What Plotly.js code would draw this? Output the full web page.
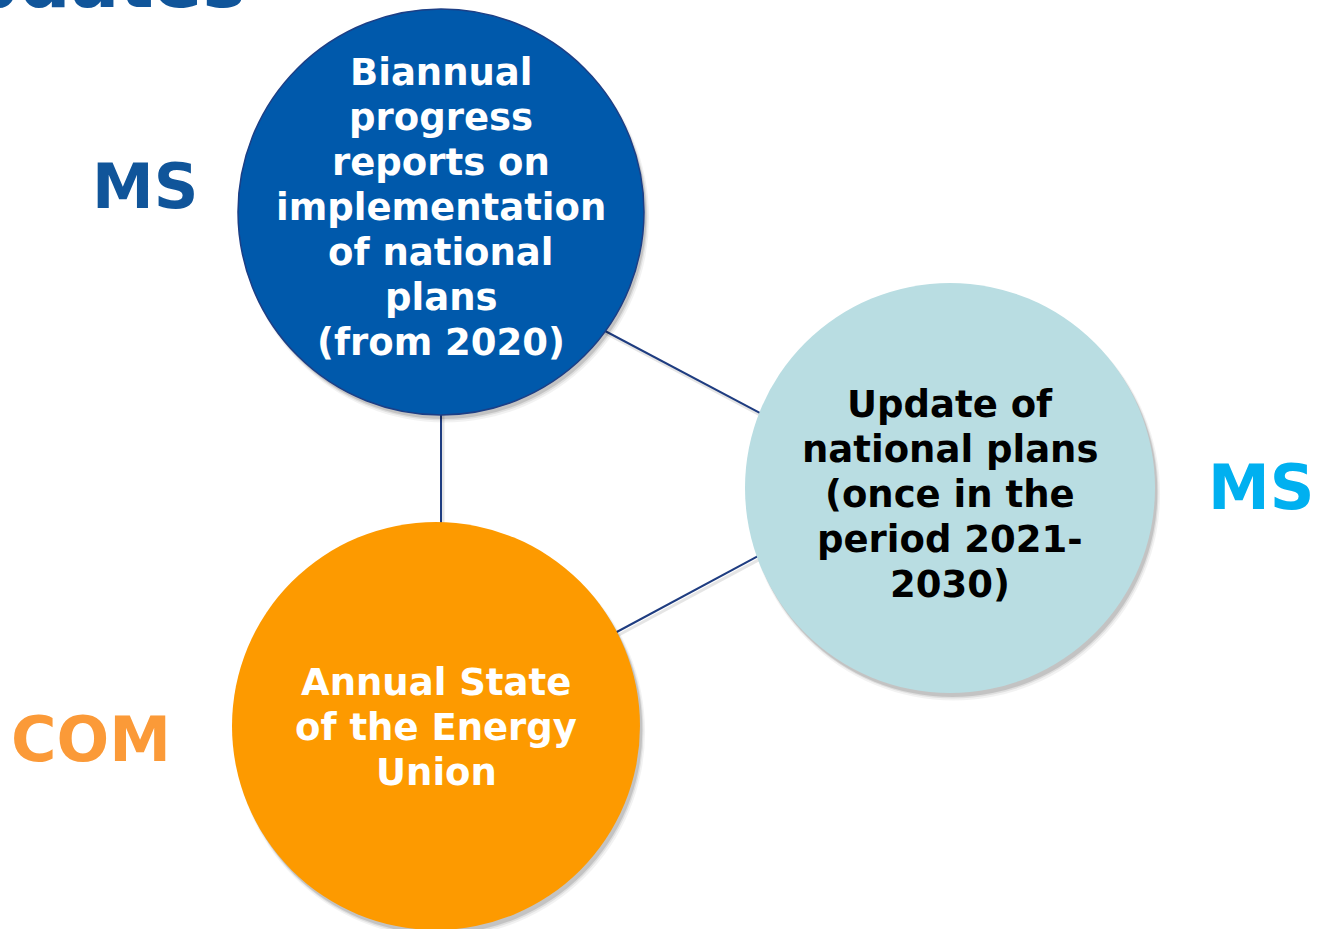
<!DOCTYPE html>
<html>
<head>
<meta charset="utf-8">
<script src="https://cdn.plot.ly/plotly-3.0.1.min.js"></script>
<style>
  html, body { margin: 0; padding: 0; background: #ffffff; }
  #chart { width: 1317px; height: 929px; }
</style>
</head>
<body>
<div id="chart"></div>
<script>
// ---- data ----
const titleText = "Updates";
const nodeLabels = [
  ["Biannual", "progress", "reports on", "implementation", "of national", "plans", "(from 2020)"],
  ["Update of", "national plans", "(once in the", "period 2021-", "2030)"],
  ["Annual State", "of the Energy", "Union"]
];
const nodeX = [441, 950, 436];
const nodeY = [212, 488, 726];
const nodeR = [203, 205, 204];
const actorLabels = ["MS", "MS", "COM"];
const actorX = [145, 1261, 91];
const actorY = [185, 486, 738];
const linkX = [[590, 775], [441, 441], [600, 775]];
const linkY = [[323, 421], [400, 535], [641, 547]];

// ---- styles ----
const nodeFill = ["#0059ab", "#b9dde2", "#fd9a00"];
const nodeLine = ["#1c3f86", "rgba(0,0,0,0)", "rgba(0,0,0,0)"];
const nodeText = ["#ffffff", "#000000", "#ffffff"];
const nodeTextShift = [-5, 6, 1.5];
const actorColor = ["#10559a", "#00b0f0", "#fb9a38"];
const lineColor = "#1e3c80";
const FONT = "DejaVu Sans, Verdana, sans-serif";
const LINE_GAP = 45;

const shapes = [];
// connector shadows + lines
linkX.forEach((xs, i) => {
  shapes.push({type: "line", xref: "x", yref: "y", x0: xs[0] + 2, x1: xs[1] + 2,
    y0: linkY[i][0] + 3, y1: linkY[i][1] + 3, layer: "below",
    line: {color: "rgba(0,0,0,0.10)", width: 3}});
  shapes.push({type: "line", xref: "x", yref: "y", x0: xs[0], x1: xs[1],
    y0: linkY[i][0], y1: linkY[i][1], layer: "below",
    line: {color: lineColor, width: 2}});
});
// circle shadows + circles
nodeX.forEach((cx, i) => {
  const cy = nodeY[i], r = nodeR[i];
  [[6, 1.5, 0.05], [5, 0.5, 0.08], [4, 0, 0.12]].forEach(s => {
    shapes.push({type: "circle", xref: "x", yref: "y", layer: "below",
      x0: cx - r - s[1] + s[0] * 0.6, x1: cx + r + s[1] + s[0] * 0.6,
      y0: cy - r - s[1] + s[0], y1: cy + r + s[1] + s[0],
      fillcolor: "rgba(0,0,0," + s[2] + ")", line: {width: 0}});
  });
  shapes.push({type: "circle", xref: "x", yref: "y", layer: "below",
    x0: cx - r, x1: cx + r, y0: cy - r, y1: cy + r,
    fillcolor: nodeFill[i], line: {color: nodeLine[i], width: 1.5}});
});

const annotations = [];
nodeLabels.forEach((lines, i) => {
  const n = lines.length;
  lines.forEach((t, k) => {
    annotations.push({
      x: nodeX[i], y: nodeY[i] + (k - (n - 1) / 2) * LINE_GAP + nodeTextShift[i],
      xref: "x", yref: "y", text: "<b>" + t + "</b>", showarrow: false,
      xanchor: "center", yanchor: "middle",
      font: {family: FONT, size: 37, color: nodeText[i]}
    });
  });
});
actorLabels.forEach((t, i) => {
  annotations.push({
    x: actorX[i], y: actorY[i] + 1, xref: "x", yref: "y",
    text: "<b>" + t + "</b>", showarrow: false, xanchor: "center", yanchor: "middle",
    font: {family: FONT, size: 62, color: actorColor[i]}
  });
});
annotations.push({
  x: 247, y: 26, xref: "x", yref: "y", text: "<b>" + titleText + "</b>",
  showarrow: false, xanchor: "right", yanchor: "bottom",
  font: {family: FONT, size: 72, color: "#10559a"}
});

const layout = {
  width: 1317, height: 929,
  margin: {l: 0, r: 0, t: 0, b: 0},
  paper_bgcolor: "#ffffff", plot_bgcolor: "#ffffff",
  showlegend: false,
  xaxis: {range: [0, 1317], visible: false, fixedrange: true},
  yaxis: {range: [929, 0], visible: false, fixedrange: true},
  shapes: shapes,
  annotations: annotations
};

Plotly.newPlot("chart", [{x: [], y: [], type: "scatter", mode: "markers"}], layout,
  {displayModeBar: false, staticPlot: true});
</script>
</body>
</html>
